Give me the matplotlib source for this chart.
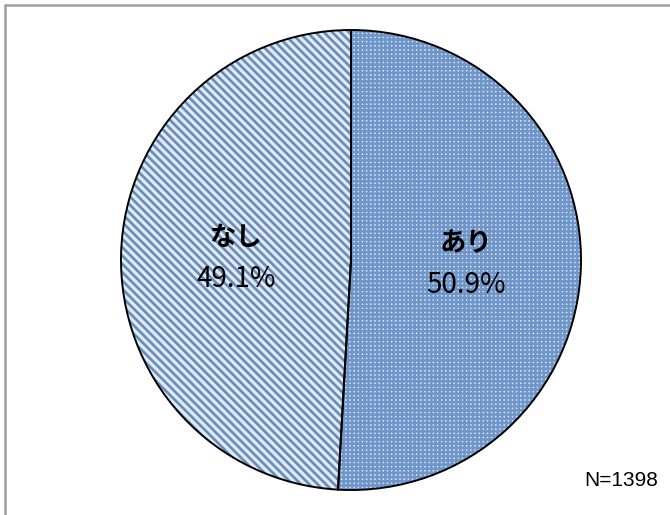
import numpy as np
import matplotlib.pyplot as plt
from matplotlib.patches import Rectangle

plt.rcParams['font.family'] = ['Noto Sans CJK JP', 'DejaVu Sans']
plt.rcParams['hatch.linewidth'] = 1.8

# データ
labels = ["あり", "なし"]
shares = [50.9, 49.1]
n_total = 1398

face_colors = ["#d2e2f4", "#dde9f5"]
hatch_colors = ["#6f95c9", "#6a8cb4"]
hatches = ["++++", "\\\\\\\\"]
hatch_lw = [1.8, 1.9]

W, H = 670, 515
fig = plt.figure(figsize=(W / 100, H / 100), dpi=100)
ax = fig.add_axes([0, 0, 1, 1])
ax.set_xlim(0, W)
ax.set_ylim(0, H)
ax.set_aspect("equal")
ax.axis("off")

cx, cy, r = 351, H - 260, 230

# 塗り + ハッチ
wedges, _ = ax.pie(shares, startangle=90, counterclock=False,
                   center=(cx, cy), radius=r, frame=True)
for w, fc, hc, hp, lw in zip(wedges, face_colors, hatch_colors, hatches, hatch_lw):
    w.set_facecolor(fc)
    w.set_edgecolor(hc)
    w.set_hatch(hp)
    w.set_linewidth(0)
    if hasattr(w, "set_hatch_linewidth"):
        w.set_hatch_linewidth(lw)

# 輪郭線
outline, _ = ax.pie(shares, startangle=90, counterclock=False,
                    center=(cx, cy), radius=r, frame=True,
                    wedgeprops=dict(fill=False, edgecolor="black", linewidth=1.4))

ax.set_xlim(0, W)
ax.set_ylim(0, H)
ax.axis("off")

# ラベル
for w, lab, v in zip(wedges, labels, shares):
    ang = np.deg2rad((w.theta1 + w.theta2) / 2)
    tx = cx + 0.5 * r * np.cos(ang)
    ty = cy + 0.5 * r * np.sin(ang)
    ax.text(tx, ty + 19, lab, ha="center", va="center", fontsize=19, fontweight="bold")
    ax.text(tx, ty - 22, f"{v:.1f}%", ha="center", va="center", fontsize=20)

ax.text(658, H - 480, f"N={n_total}", ha="right", va="center", fontsize=15,
        family=["Liberation Sans", "DejaVu Sans"])

# 枠線（上と左のみ見える）
fig.patches.append(Rectangle((5 / W, -0.1), 1.2, 1 - 5 / H + 0.1,
                             transform=fig.transFigure, fill=False,
                             edgecolor="#a0a0a0", linewidth=1.8, clip_on=False))

fig.savefig("out.png", dpi=100)
